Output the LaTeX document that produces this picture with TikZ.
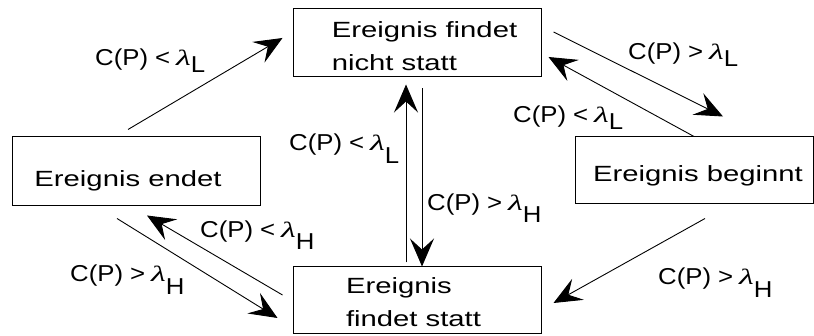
\documentclass[tikz,border=0pt]{standalone}
\usepackage{fontspec}
\setmainfont{Liberation Sans}
\newfontfamily\boxfont[FakeStretch=1.33]{Liberation Sans}
\newfontfamily\labfont[FakeStretch=1.12]{Liberation Sans}
\newfontfamily\lamfont[FakeStretch=1.55]{Liberation Serif}
\usetikzlibrary{arrows.meta}
% #1 relation sign, #2 subscript, #3 drop of the subscript
\newcommand\condlab[3]{{\labfont\fontsize{23}{26}\selectfont C(P)\hspace{7pt}#1\hspace{6pt}{\lamfont\itshape\fontsize{22}{24}\selectfont λ}\raisebox{-#3pt}{#2}}}
\begin{document}
\begin{tikzpicture}[x=1pt,y=-1pt,
  statebox/.style={draw, line width=1pt, rectangle, inner sep=0pt, align=left,
    font=\boxfont\fontsize{22}{33}\selectfont},
  trans/.style={line width=0.9pt, -{Stealth[length=28pt,width=24pt,inset=11pt]}},
  condtext/.style={anchor=base west, inner sep=0pt}]
\useasboundingbox (0,0) rectangle (814,336);
\node[statebox, minimum width=248pt, minimum height=68pt] (nicht) at (417,43)
  {\rule{15pt}{0pt}\rule{0pt}{23pt}Ereignis findet\\\rule{15pt}{0pt}nicht statt};
\node[statebox, minimum width=248pt, minimum height=69pt] (endet) at (136,171.5)
  {\rule{0pt}{35pt}Ereignis endet\rule{16pt}{0pt}};
\node[statebox, minimum width=238pt, minimum height=67pt] (beginnt) at (694,170.5)
  {\rule{8pt}{0pt}\rule{0pt}{27pt}Ereignis beginnt};
\node[statebox, minimum width=248pt, minimum height=67pt] (statt) at (417,300.5)
  {\rule{0pt}{19pt}Ereignis\\findet statt\rule{7pt}{0pt}};

\draw[trans] ([xshift=-8pt,yshift=7pt]endet.north) -- ([xshift=-10pt,yshift=5pt]nicht.west);
\draw[trans] ([xshift=12pt,yshift=11pt]nicht.east) -- ([xshift=29pt,yshift=20pt]beginnt.north);
\draw[trans] (beginnt.north) -- ([xshift=7pt,yshift=-14pt]nicht.east);
\draw[trans] ([xshift=11pt,yshift=-14pt]beginnt.south) -- ([xshift=12pt,yshift=-2.5pt]statt.east);
\draw[trans] ([xshift=-11pt,yshift=4pt]statt.north) -- ([xshift=-11pt,yshift=-7pt]nicht.south);
\draw[trans] ([xshift=5pt,yshift=-11pt]nicht.south) -- ([xshift=5pt]statt.north);
\draw[trans] ([xshift=-19pt,yshift=-12pt]endet.south) -- ([xshift=-15pt,yshift=-17.5pt]statt.west);
\draw[trans] ([xshift=-10pt,yshift=5.5pt]statt.west) -- ([xshift=11pt,yshift=-9pt]endet.south);

\node[condtext] (l1) at (95,66) {\condlab{<}{L}{7}};
\node[condtext] (l2) at (628,60) {\condlab{>}{L}{7}};
\node[condtext] (l3) at (513,123) {\condlab{<}{L}{7}};
\node[condtext] (l4) at (289,151) {\condlab{<}{L}{13}};
\node[condtext] (l5) at (427,211) {\condlab{>}{H}{12}};
\node[condtext] (l6) at (200,238) {\condlab{<}{H}{12}};
\node[condtext] (l7) at (70,282) {\condlab{>}{H}{13}};
\node[condtext] (l8) at (658,285) {\condlab{>}{H}{13}};
\end{tikzpicture}
\end{document}
